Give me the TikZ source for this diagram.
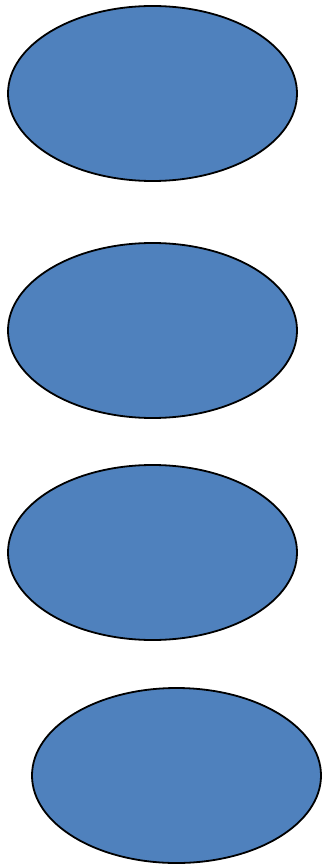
\documentclass[tikz,border=0pt]{standalone}
\usepackage{xcolor}
\usetikzlibrary{shapes.geometric}
\definecolor{ovalblue}{HTML}{4F81BD}

\begin{document}
\begin{tikzpicture}[x=1pt, y=-1pt,
  oval/.style={ellipse, draw=black, line width=1.8pt, fill=ovalblue,
    inner sep=0pt, minimum width=289pt, minimum height=175pt}]
  \useasboundingbox (0,0) rectangle (325,866);
  \node[oval] (first) at (152.5,93.5) {};
  \node[oval] (second) at (152.5,330.5) {};
  \node[oval] (third) at (152.5,552.5) {};
  \node[oval] (fourth) at (176.5,775.5) {};
\end{tikzpicture}
\end{document}
